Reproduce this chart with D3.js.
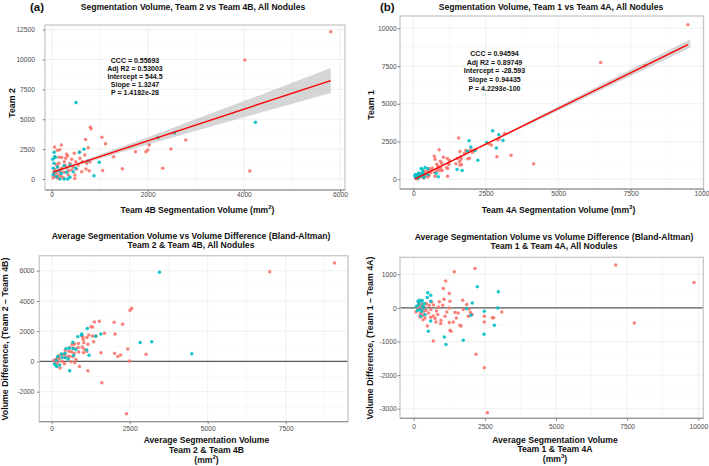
<!DOCTYPE html>
<html>
<head>
<meta charset="utf-8">
<script src="https://cdn.jsdelivr.net/npm/d3@7"></script>
<style>
body { margin: 0; background: #fff; }
text { font-family: "Liberation Sans", Arial, sans-serif; }
</style>
</head>
<body>
<div id="chart"></div>
<script>
// ---- data: panel (a) Team 4B (x) vs Team 2 (y)
let aRed = [[5807,12316],[4019,9950],[4123,669],[2790,3260],[2480,2510],[2310,900],[2030,2845],[1960,2280],
  [2000,2420],[1745,2280],[1470,850],[1290,1870],[1120,2940],[1045,3500],[1060,720],[805,4320],[820,4200],
  [705,3300],[760,2620],[580,2260],[480,50],[200,2850],[60,2670],[690,2000],[780,700],[166,2450],[312,2065],
  [152,1815],[208,1790],[291,1730],[333,1923],[416,1647],[470,2150],[588,1730],[636,1450],[728,1310],[553,1170],
  [380,1310],[262,1450],[150,1310],[125,1030],[208,890],[312,950],[416,750],[520,840],[624,610],[484,335],
  [345,335],[104,560],[54,190],[137,60],[241,110],[62,800],[150,330],[40,420],[260,560],[796,1450],[713,840],
  [100,1200],[30,100],[80,300],[200,200],[350,700],[450,1000],[180,650],[120,150],[500,1450],[280,1150],[115,2405]];
let aTeal = [[505,6400],[4240,4741],[2555,3855],[2210,3460],[670,2480],[575,2240],[50,2230],[21,1650],[48,1310],
  [62,1870],[256,1110],[380,1170],[449,610],[312,560],[172,0],[262,0],[333,0],[104,190],[33,890],[62,560],
  [380,140],[990,1400],[880,270],[748,1500],[75,1825],[120,1000],[200,450],[30,350],[500,900],[150,700]];

// ---- panel (b) Team 4A (x) vs Team 1 (y)
let bRed = [[9470,10228],[6460,7736],[7975,7527],[4148,1026],[3372,1593],[2881,1499],[1566,2742],[890,1965],
  [726,1523],[752,1331],[3152,3033],[2606,2358],[2691,2273],[2905,2615],[2955,2665],[1607,1837],[1931,1394],
  [1659,963],[1469,1033],[1182,197],[2061,1924],[1036,1466],[935,1195],[1176,1376],[1812,1912],[979,1059],
  [851,881],[1251,1251],[1767,1719],[1520,1383],[1220,1101],[942,745],[809,570],[736,458],[906,590],[1143,776],
  [1600,1182],[1885,1369],[2043,1795],[747,210],[993,575],[1182,716],[1609,943],[543,722],[508,588],[467,398],
  [446,228],[356,87],[141,22],[175,125],[175,225],[325,175],[250,350],[400,300],[550,250],[300,260],[120,240],
  [105,135],[390,510],[595,445],[370,390],[330,130],[505,155],[625,575],[655,745],[845,755],[810,990],[1225,975],
  [1650,1350],[1965,1935],[1635,1485],[2150,1950]];
let bTeal = [[1922,2549],[2735,3213],[2950,2950],[2532,2433],[2864,2079],[3091,2575],[1985,2134],[2122,1904],
  [1871,1853],[2225,1261],[1508,642],[1682,589],[268,716],[407,787],[323,633],[861,165],[791,403],[50,250],
  [85,315],[160,340],[130,230],[190,410],[75,125],[245,195],[315,445],[330,230],[350,350],[170,90],[500,300],
  [375,125],[500,700],[290,350]];

// ---- panel (c) Bland-Altman, average (x) vs difference Team 2 - Team 4B (y)
let cRed = [[9062,6509],[6985,5931],[2396,-3454],[3025,470],[2495,30],[1605,-1410],[2438,815],[2120,320],
  [2210,420],[2013,535],[1160,-620],[1580,580],[2030,1820],[2273,2455],[890,-340],[2563,3515],[2510,3380],
  [2003,2595],[1690,1860],[1420,1680],[265,-430],[1525,2650],[1365,2610],[1345,1310],[740,-80],[1308,2284],
  [1189,1753],[984,1663],[999,1582],[1011,1439],[1128,1590],[1032,1231],[1310,1680],[1159,1142],[1043,814],
  [1019,582],[862,617],[845,930],[856,1188],[730,1160],[578,905],[549,682],[631,638],[583,334],[680,320],
  [617,-14],[410,-149],[340,-10],[332,456],[122,136],[99,-77],[176,-131],[431,738],[240,180],[230,380],
  [410,300],[1123,654],[777,127],[650,1100],[65,70],[190,220],[200,0],[525,350],[725,550],[415,470],[135,30],
  [975,950],[715,870],[1260,2290]];
let cTeal = [[3453,5895],[4491,501],[3205,1300],[2835,1250],[1575,1810],[1408,1665],[1140,2180],[836,1629],
  [679,1262],[966,1808],[683,854],[775,790],[530,161],[436,248],[86,-172],[131,-262],[167,-333],[147,86],
  [462,857],[311,498],[260,-240],[1195,410],[575,-610],[1124,752],[950,1750],[560,880],[325,250],[190,320],
  [700,400],[425,550]];

// ---- panel (d) Bland-Altman, average (x) vs difference Team 1 - Team 4A (y)
let dRed = [[9849,758],[7098,1275],[7751,-448],[2587,-3122],[2482,-1779],[2190,-1382],[2154,1176],[1427,1075],
  [1124,797],[1041,579],[3092,-119],[2482,-248],[2482,-418],[2760,-290],[2810,-290],[1722,230],[1662,-537],
  [1311,-696],[1251,-436],[689,-985],[1992,-137],[1251,430],[1065,260],[1276,200],[1862,100],[1019,80],
  [866,30],[1251,0],[1743,-48],[1451,-137],[1160,-119],[843,-197],[689,-239],[597,-278],[748,-316],[959,-367],
  [1391,-418],[1627,-516],[1919,-248],[478,-537],[784,-418],[949,-466],[1276,-666],[632,179],[548,80],
  [432,-69],[337,-218],[221,-269],[81,-119],[150,-50],[200,50],[250,-150],[300,100],[350,-100],[400,-300],
  [280,-40],[180,120],[120,30],[450,120],[520,-150],[380,20],[230,-200],[330,-350],[600,-50],[700,90],
  [800,-90],[900,180],[1100,-250],[1500,-300],[1950,-30],[1560,-150],[2050,-200]];
let dTeal = [[2235,627],[2974,478],[2950,0],[2482,-99],[2471,-785],[2833,-516],[2059,149],[2013,-218],
  [1862,-18],[1743,-964],[1075,-866],[1135,-1093],[492,448],[597,380],[478,310],[513,-696],[597,-388],
  [150,200],[200,230],[250,180],[180,100],[300,220],[100,50],[220,-50],[380,130],[280,-100],[350,0],
  [130,-80],[400,-200],[250,-250],[600,200],[320,60]];

// fitted lines and their confidence bands
let fitA = { intercept: 544.5, slope: 1.3247 };
let fitB = { intercept: -28.593, slope: 0.94435 };
let bandAx = [20, 600, 1500, 2500, 3500, 4500, 5807];
let bandALo = [398, 1209, 2311, 3458, 4592, 5723, 7197];
let bandAHi = [744, 1469, 2752, 4254, 5770, 7289, 9277];
let bandBx = [50, 1000, 2500, 4000, 5000, 6000, 7500, 8500, 9550];
let bandBLo = [-31, 876, 2269, 3644, 4557, 5470, 6840, 7754, 8710];
let bandBHi = [69, 956, 2395, 3854, 4829, 5805, 7268, 8246, 9270];

let statsA = ['CCC =  0.55693', 'Adj R2 =  0.53003', 'Intercept = 544.5', 'Slope = 1.3247', 'P = 1.4182e-28'];
let statsB = ['CCC =  0.94594', 'Adj R2 =  0.89749', 'Intercept = -28.593', 'Slope = 0.94435', 'P = 4.2293e-100'];

// tick values
let aXTicks = [0, 2000, 4000, 6000], aYTicks = [0, 2500, 5000, 7500, 10000, 12500];
let bXTicks = [0, 2500, 5000, 7500, 10000], bYTicks = [0, 2500, 5000, 7500, 10000];
let cXTicks = [0, 2500, 5000, 7500], cYTicks = [-2000, 0, 2000, 4000, 6000];
let dXTicks = [0, 2500, 5000, 7500, 10000], dYTicks = [-3000, -2000, -1000, 0, 1000];

let w = 709, h = 466;
let red = '#F8766D', teal = '#00BFC4';
let svg = d3.select('#chart').append('svg').attr('width', w).attr('height', h);

function midTicks(t) {
  let step = t[1] - t[0];
  let out = [t[0] - step / 2];
  t.forEach(v => out.push(v + step / 2));
  return out;
}

function drawPanel(p) {
  let x = d3.scaleLinear().domain([p.xTicks[0], p.xTicks[p.xTicks.length - 1]]).range(p.xRange);
  let y = d3.scaleLinear().domain([p.yTicks[0], p.yTicks[p.yTicks.length - 1]]).range(p.yRange);
  let b = p.box;
  let g = svg.append('g');

  // grid
  let inX = v => x(v) > b.l && x(v) < b.r;
  let inY = v => y(v) > b.t && y(v) < b.b;
  g.selectAll('line.minx').data(midTicks(p.xTicks).filter(inX)).enter().append('line')
    .attr('x1', d => x(d)).attr('x2', d => x(d)).attr('y1', b.t).attr('y2', b.b)
    .style('stroke', '#f3f3f3').style('stroke-width', 0.5);
  g.selectAll('line.miny').data(midTicks(p.yTicks).filter(inY)).enter().append('line')
    .attr('y1', d => y(d)).attr('y2', d => y(d)).attr('x1', b.l).attr('x2', b.r)
    .style('stroke', '#f3f3f3').style('stroke-width', 0.5);
  g.selectAll('line.majx').data(p.xTicks.filter(inX)).enter().append('line')
    .attr('x1', d => x(d)).attr('x2', d => x(d)).attr('y1', b.t).attr('y2', b.b)
    .style('stroke', '#e9e9e9').style('stroke-width', 0.7);
  g.selectAll('line.majy').data(p.yTicks.filter(inY)).enter().append('line')
    .attr('y1', d => y(d)).attr('y2', d => y(d)).attr('x1', b.l).attr('x2', b.r)
    .style('stroke', '#e9e9e9').style('stroke-width', 0.7);

  // zero line (Bland-Altman)
  if (p.zeroLine) {
    g.append('line').attr('x1', b.l).attr('x2', b.r).attr('y1', y(0)).attr('y2', y(0))
      .style('stroke', '#5a5a5a').style('stroke-width', 1.3);
  }

  // points
  g.selectAll('circle.r').data(p.red).enter().append('circle')
    .attr('cx', d => x(d[0])).attr('cy', d => y(d[1])).attr('r', 1.75)
    .style('fill', red).style('opacity', 0.9);
  g.selectAll('circle.t').data(p.teal).enter().append('circle')
    .attr('cx', d => x(d[0])).attr('cy', d => y(d[1])).attr('r', 1.75)
    .style('fill', teal).style('opacity', 0.9);

  // fit band + line
  if (p.fit) {
    let band = p.bandX.map((v, i) => [v, p.bandLo[i], p.bandHi[i]]);
    let area = d3.area().x(d => x(d[0])).y0(d => y(d[1])).y1(d => y(d[2])).curve(d3.curveMonotoneX);
    g.append('path').attr('d', area(band)).style('fill', '#999').style('opacity', 0.4);
    let ext = d3.extent(p.red.concat(p.teal), d => d[0]);
    g.append('line')
      .attr('x1', x(ext[0])).attr('y1', y(p.fit.intercept + p.fit.slope * ext[0]))
      .attr('x2', x(ext[1])).attr('y2', y(p.fit.intercept + p.fit.slope * ext[1]))
      .style('stroke', '#ff0000').style('stroke-width', 1.4);
    g.selectAll('text.stat').data(p.stats).enter().append('text')
      .text(d => d)
      .attr('x', p.statX).attr('y', (d, i) => p.statY + i * p.statDy)
      .attr('text-anchor', 'middle').style('font-size', '7px').style('font-weight', 'bold').style('fill', '#111');
  }

  // border, bottom edge a little darker
  g.append('rect').attr('x', b.l).attr('y', b.t).attr('width', b.r - b.l).attr('height', b.b - b.t)
    .style('fill', 'none').style('stroke', '#c8c8c8').style('stroke-width', 1.3);
  g.append('line').attr('x1', b.l).attr('x2', b.r).attr('y1', b.b).attr('y2', b.b)
    .style('stroke', '#8a8a8a').style('stroke-width', 1);

  // axes
  let fmt = d => String(d);
  let yAxis = d3.axisLeft(y).tickValues(p.yTicks).tickSize(2.5).tickPadding(p.yPad).tickFormat(fmt);
  let yg = g.append('g').attr('transform', 'translate(' + b.l + ',0)').call(yAxis);
  let xAxis = d3.axisBottom(x).tickValues(p.xTicks).tickSize(2.5).tickFormat(fmt);
  let xg = g.append('g').attr('transform', 'translate(0,' + b.b + ')').call(xAxis);
  [yg, xg].forEach(a => {
    a.select('.domain').remove();
    a.attr('font-family', null).attr('font-size', null);
    a.selectAll('line').style('stroke', '#444').style('stroke-width', 0.6);
    a.selectAll('text').style('font-size', '6.7px').style('fill', '#4d4d4d');
  });
  xg.selectAll('text').attr('y', p.xLabY - b.b).attr('dy', 0);

  // titles
  p.title.forEach((t, i) => {
    g.append('text').text(t).attr('x', p.titleX).attr('y', p.titleY + i * 9.8)
      .attr('text-anchor', 'middle').style('font-size', '8.6px').style('font-weight', 'bold').style('fill', '#111');
  });
  if (p.tag) {
    g.append('text').text(p.tag).attr('x', p.tagX).attr('y', 10.5)
      .style('font-size', '11.5px').style('font-weight', 'bold').style('fill', '#111');
  }
  // x title, last line holds the unit with superscript
  p.xTitle.forEach((t, i) => {
    let tx = g.append('text').attr('x', p.xTitleX).attr('y', p.xTitleY + i * 9.6)
      .attr('text-anchor', 'middle').style('font-size', '8.6px').style('font-weight', 'bold').style('fill', '#111');
    if (i === p.xTitle.length - 1) {
      tx.append('tspan').text(t + '(mm');
      tx.append('tspan').text(p.unitPow).attr('dy', -3.5).style('font-size', '6px');
      tx.append('tspan').text(')').attr('dy', 3.5);
    } else {
      tx.text(t);
    }
  });
  g.append('text').text(p.yTitle)
    .attr('transform', 'translate(' + p.yTitleX + ',' + p.yTitleY + ') rotate(-90)')
    .attr('text-anchor', 'middle').style('font-size', '8.8px').style('font-weight', 'bold').style('fill', '#111');
}

drawPanel({
  red: aRed, teal: aTeal, xTicks: aXTicks, yTicks: aYTicks,
  xRange: [51.7, 340], yRange: [179, 29.6], box: { l: 45, r: 345, t: 25, b: 190 },
  yPad: 7.5, xLabY: 196.5,
  fit: fitA, bandX: bandAx, bandLo: bandALo, bandHi: bandAHi,
  stats: statsA, statX: 135, statY: 63, statDy: 7.9,
  title: ['Segmentation Volume, Team 2 vs Team 4B, All Nodules'], titleX: 193, titleY: 9.7,
  tag: '(a)', tagX: 30,
  xTitle: ['Team 4B Segmentation Volume '], unitPow: '2', xTitleX: 197.5, xTitleY: 212.5,
  yTitle: 'Team 2', yTitleX: 15, yTitleY: 103
});
drawPanel({
  red: bRed, teal: bTeal, xTicks: bXTicks, yTicks: bYTicks,
  xRange: [413.3, 703.3], yRange: [179.3, 28.3], box: { l: 400, r: 703.5, t: 16, b: 189 },
  yPad: 0.8, xLabY: 196,
  fit: fitB, bandX: bandBx, bandLo: bandBLo, bandHi: bandBHi,
  stats: statsB, statX: 494.5, statY: 56, statDy: 8.7,
  title: ['Segmentation Volume, Team 1 vs Team 4A, All Nodules'], titleX: 551, titleY: 9.7,
  tag: '(b)', tagX: 380,
  xTitle: ['Team 4A Segmentation Volume '], unitPow: '3', xTitleX: 558.5, xTitleY: 212.5,
  yTitle: 'Team 1', yTitleX: 374, yTitleY: 105
});
drawPanel({
  red: cRed, teal: cTeal, xTicks: cXTicks, yTicks: cYTicks,
  xRange: [51.7, 285.7], yRange: [391.7, 270.7], box: { l: 39.3, r: 348, t: 255.7, b: 421.7 },
  yPad: 2.5, xLabY: 431.5, zeroLine: true,
  title: ['Average Segmentation Volume vs Volume Difference (Bland-Altman)', 'Team 2 & Team 4B, All Nodules'],
  titleX: 191, titleY: 238.5,
  xTitle: ['Average Segmentation Volume', 'Team 2 & Team 4B', ''], unitPow: '2', xTitleX: 206.5, xTitleY: 443.3,
  yTitle: 'Volume Difference, (Team 2 \u2013 Team 4B)', yTitleX: 7.5, yTitleY: 339
});
drawPanel({
  red: dRed, teal: dTeal, xTicks: dXTicks, yTicks: dYTicks,
  xRange: [413.7, 698.3], yRange: [408.7, 274.3], box: { l: 400, r: 703.3, t: 257.3, b: 418.3 },
  yPad: 0.8, xLabY: 429.3, zeroLine: true,
  title: ['Average Segmentation Volume vs Volume Difference (Bland-Altman)', 'Team 1 & Team 4A, All Nodules'],
  titleX: 554, titleY: 239.5,
  xTitle: ['Average Segmentation Volume', 'Team 1 & Team 4A', ''], unitPow: '3', xTitleX: 555, xTitleY: 442.5,
  yTitle: 'Volume Difference, (Team 1 \u2013 Team 4A)', yTitleX: 373, yTitleY: 338
});
</script>
</body>
</html>
